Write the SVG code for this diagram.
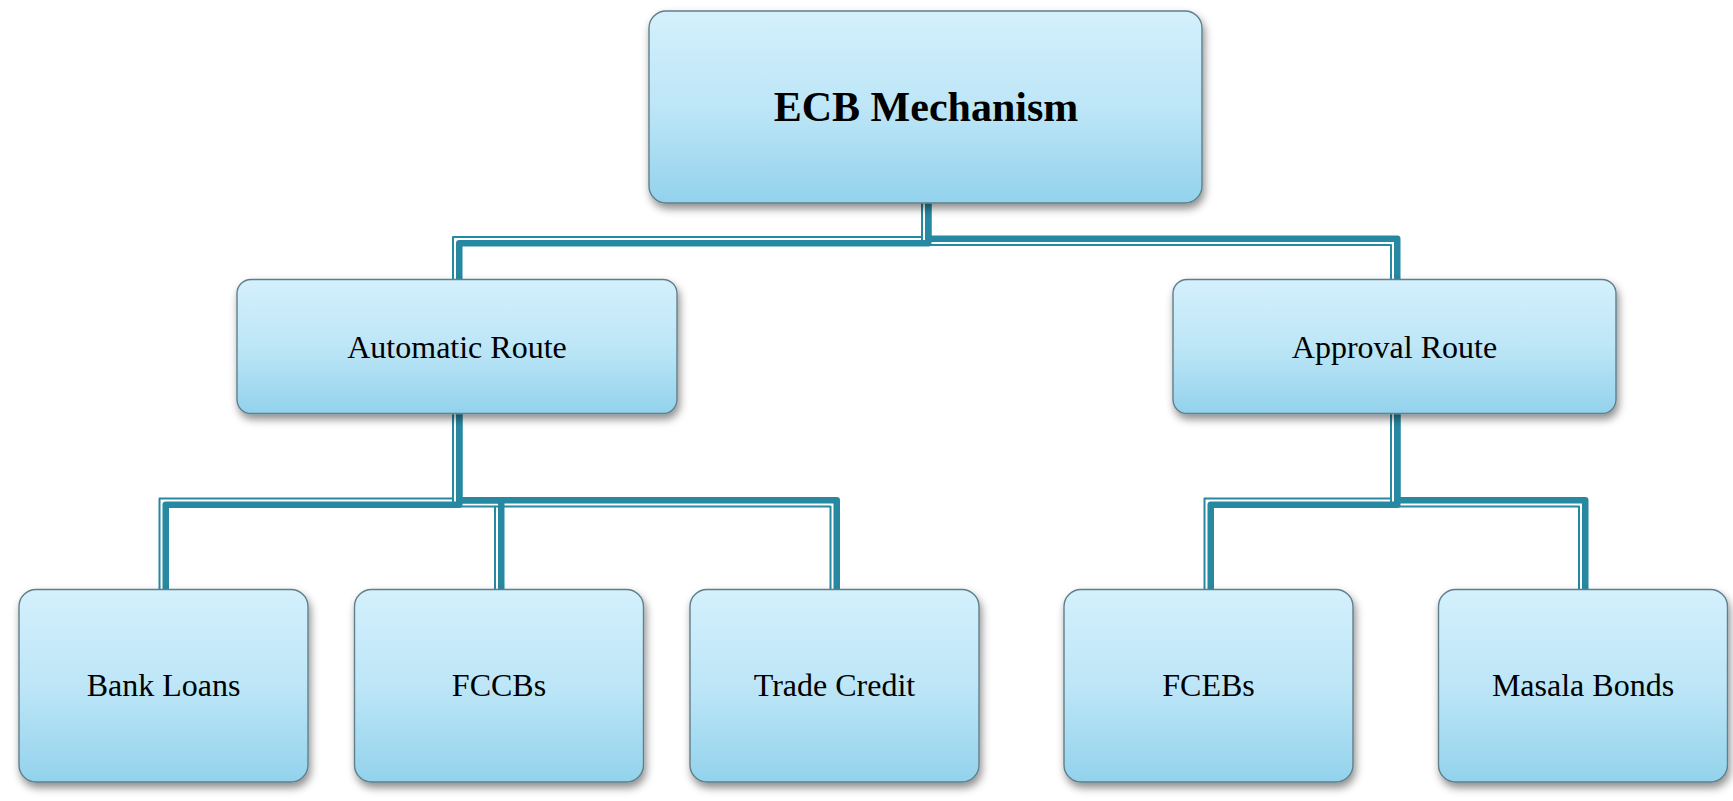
<svg xmlns="http://www.w3.org/2000/svg" width="1733" height="801" viewBox="0 0 1733 801">
  <defs>
    <linearGradient id="boxGrad" x1="0" y1="0" x2="0" y2="1">
      <stop offset="0" stop-color="#D4F0FC"/>
      <stop offset="0.5" stop-color="#BDE6F7"/>
      <stop offset="1" stop-color="#93D2EC"/>
    </linearGradient>
    <filter id="shadow" x="-10%" y="-10%" width="120%" height="130%">
      <feDropShadow dx="2" dy="5" stdDeviation="4" flood-color="#000" flood-opacity="0.45"/>
    </filter>
  </defs>
  <style>
    .box { fill: url(#boxGrad); stroke: #5F7F8B; stroke-width: 1.4; filter: url(#shadow); }
    .halo { fill: none; stroke: #C8C8C8; stroke-width: 0.8; stroke-dasharray: 6 10; opacity: 0.7; }
    .lbl { font-family: "Liberation Serif", "Times New Roman", serif; font-size: 32px; fill: #000; text-anchor: middle; }
    .title { font-family: "Liberation Serif", "Times New Roman", serif; font-size: 42px; font-weight: bold; fill: #000; text-anchor: middle; }
    .thick { fill: none; stroke: #2788A2; stroke-width: 6.5; stroke-linejoin: round; }
    .thin { fill: none; stroke: #2788A2; stroke-width: 2; stroke-linejoin: round; }
  </style>

  <g id="connectors">
    <!-- ECB -> Automatic Route -->
    <path class="thin" d="M922,203 V237 H453 V279.5"/>
    <path class="thick" d="M928.25,203 V243.25 H459.25 V279.5"/>
    <!-- ECB -> Approval Route -->
    <path class="thick" d="M928.25,203 V238.75 H1397.25 V279.5"/>
    <path class="thin" d="M922,237 V245 H1391 V279.5"/>
    <!-- Automatic -> Bank Loans -->
    <path class="thin" d="M453,413.5 V498.5 H159.5 V589.5"/>
    <path class="thick" d="M459.25,413.5 V504.75 H165.75 V589.5"/>
    <!-- Automatic -> FCCBs -->
    <path class="thick" d="M459.25,413.5 V500.25 H501.25 V589.5"/>
    <path class="thin" d="M453,498.5 V506.5 H495 V589.5"/>
    <!-- Automatic -> Trade Credit -->
    <path class="thick" d="M459.25,500.25 H836.75 V589.5"/>
    <path class="thin" d="M495,506.5 H830.5 V589.5"/>
    <!-- Approval -> FCEBs -->
    <path class="thin" d="M1391,413.5 V498.5 H1204.5 V589.5"/>
    <path class="thick" d="M1397.25,413.5 V504.75 H1210.75 V589.5"/>
    <!-- Approval -> Masala Bonds -->
    <path class="thick" d="M1397.25,413.5 V500.25 H1585.25 V589.5"/>
    <path class="thin" d="M1391,498.5 V506.5 H1579 V589.5"/>
  </g>

  <g id="node-ecb">
    <rect class="box" x="649" y="11" width="553" height="192" rx="17"/>
    <text class="title" x="926" y="121">ECB Mechanism</text>
  </g>

  <g id="node-automatic">
    <rect class="box" x="237" y="279.5" width="440" height="134" rx="14"/>
    <text class="lbl" x="457" y="357.5">Automatic Route</text>
  </g>

  <g id="node-approval">
    <rect class="box" x="1173" y="279.5" width="443" height="134" rx="14"/>
    <text class="lbl" x="1394.5" y="357.5">Approval Route</text>
  </g>

  <g id="node-bank-loans">
    <rect class="box" x="19" y="589.5" width="289" height="192.5" rx="17"/>
    <text class="lbl" x="163.5" y="696">Bank Loans</text>
  </g>

  <g id="node-fccbs">
    <rect class="box" x="354.5" y="589.5" width="289" height="192.5" rx="17"/>
    <text class="lbl" x="499" y="696">FCCBs</text>
  </g>

  <g id="node-trade-credit">
    <rect class="box" x="690" y="589.5" width="289" height="192.5" rx="17"/>
    <text class="lbl" x="834.5" y="696">Trade Credit</text>
  </g>

  <g id="node-fcebs">
    <rect class="box" x="1064" y="589.5" width="289" height="192.5" rx="17"/>
    <text class="lbl" x="1208.5" y="696">FCEBs</text>
  </g>

  <g id="node-masala-bonds">
    <rect class="box" x="1438.5" y="589.5" width="289" height="192.5" rx="17"/>
    <text class="lbl" x="1583" y="696">Masala Bonds</text>
  </g>
</svg>
